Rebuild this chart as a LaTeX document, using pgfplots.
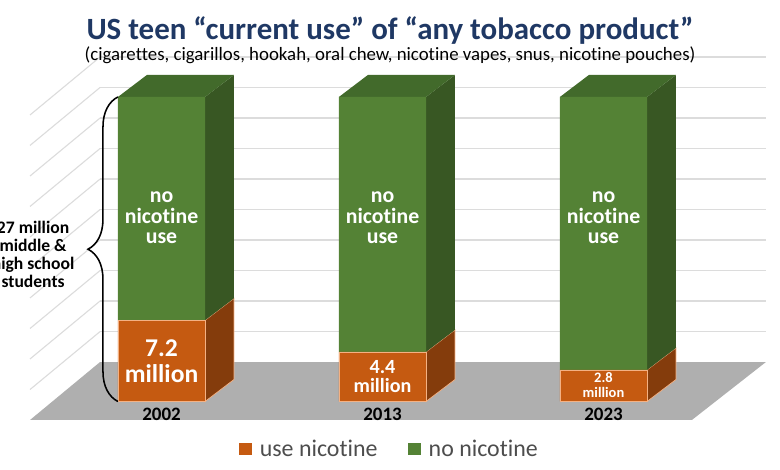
\documentclass[border=0pt]{standalone}
\usepackage{pgfplots}
\pgfplotsset{compat=1.18}
\usepackage{fontspec}
\setmainfont{Carlito}[Ligatures=NoCommon]
\usetikzlibrary{decorations.pathreplacing}
\definecolor{orF}{HTML}{C55A11}
\definecolor{orS}{HTML}{843C0C}
\definecolor{grF}{HTML}{548235}
\definecolor{grS}{HTML}{385723}
\definecolor{grT}{HTML}{426A2B}
\definecolor{tanC}{HTML}{F4B183}
\definecolor{floorC}{HTML}{AFAFAF}
\definecolor{gridC}{HTML}{DCDCDC}
\definecolor{titleC}{HTML}{1F3864}
\definecolor{legC}{HTML}{4D4D4D}
\pgfplotsset{base/.style={at={(0,0)}, anchor=south west, x=5.525cm, y=0.282cm,
  xmin=-0.7308, xmax=2.7986, ymin=-6.073, ymax=35.594, hide axis, clip=false}}
\begin{document}
\begin{tikzpicture}
\useasboundingbox (0,0) rectangle (19.5,11.75);
\clip (0,0) rectangle (19.5,11.75);
\begin{axis}[base]
% floor
\addplot[fill=floorC, draw=none] coordinates {(-0.595,-1.64) (2.400,-1.64) (2.735,3.50) (-0.278,3.50)} -- cycle;
% back wall gridlines
\addplot[gridC, line width=0.8pt, unbounded coords=jump, mark=none] coordinates {
(-0.278,6.20) (2.735,6.20) (0,nan)
(-0.278,8.91) (2.735,8.91) (0,nan)
(-0.278,11.61) (2.735,11.61) (0,nan)
(-0.278,14.32) (2.735,14.32) (0,nan)
(-0.278,17.02) (2.735,17.02) (0,nan)
(-0.278,19.72) (2.735,19.72) (0,nan)
(-0.278,22.43) (2.735,22.43) (0,nan)
(-0.278,25.13) (2.735,25.13) (0,nan)
(-0.278,27.84) (2.735,27.84) (0,nan)
(-0.278,30.54) (2.735,30.54)};
% left wall gridlines
\addplot[gridC, line width=0.8pt, unbounded coords=jump, mark=none] coordinates {
(-0.595,1.06) (-0.278,6.20) (0,nan)
(-0.595,3.77) (-0.278,8.91) (0,nan)
(-0.595,6.47) (-0.278,11.61) (0,nan)
(-0.595,9.18) (-0.278,14.32) (0,nan)
(-0.595,11.88) (-0.278,17.02) (0,nan)
(-0.595,14.58) (-0.278,19.72) (0,nan)
(-0.595,17.29) (-0.278,22.43) (0,nan)
(-0.595,19.99) (-0.278,25.13) (0,nan)
(-0.595,22.70) (-0.278,27.84) (0,nan)
(-0.595,25.40) (-0.278,30.54)};
% bar 2002 sides and top
\addplot[fill=orS, draw=tanC, line width=0.5pt] coordinates {(0.197,0) (0.328,1.95) (0.328,9.15) (0.197,7.2)} -- cycle;
\addplot[fill=grS, draw=none] coordinates {(0.197,7.2) (0.328,9.15) (0.328,28.95) (0.197,27)} -- cycle;
\addplot[fill=grT, draw=none] coordinates {(-0.197,27) (0.197,27) (0.328,28.95) (-0.066,28.95)} -- cycle;
% bar 2013
\addplot[fill=orS, draw=tanC, line width=0.5pt] coordinates {(1.197,0) (1.328,1.95) (1.328,6.35) (1.197,4.4)} -- cycle;
\addplot[fill=grS, draw=none] coordinates {(1.197,4.4) (1.328,6.35) (1.328,28.95) (1.197,27)} -- cycle;
\addplot[fill=grT, draw=none] coordinates {(0.803,27) (1.197,27) (1.328,28.95) (0.934,28.95)} -- cycle;
% bar 2023
\addplot[fill=orS, draw=tanC, line width=0.5pt] coordinates {(2.197,0) (2.328,1.95) (2.328,4.75) (2.197,2.8)} -- cycle;
\addplot[fill=grS, draw=none] coordinates {(2.197,2.8) (2.328,4.75) (2.328,28.95) (2.197,27)} -- cycle;
\addplot[fill=grT, draw=none] coordinates {(1.803,27) (2.197,27) (2.328,28.95) (1.934,28.95)} -- cycle;
\end{axis}
\begin{axis}[base, ybar stacked, bar width=0.394,
  legend style={at={(0.5,0.0447)}, anchor=center, legend columns=2, draw=none, fill=none,
    font=\fontsize{17}{20}\selectfont, text=legC,
    /tikz/every odd column/.append style={column sep=0.12cm},
    /tikz/every even column/.append style={column sep=0.7cm}},
  legend image code/.code={\path[#1, draw=none] (0cm,-0.16cm) rectangle (0.32cm,0.16cm);}]
\addplot[fill=orF, draw=tanC, line width=0.5pt] coordinates {(0,7.2) (1,4.4) (2,2.8)};
\addplot[fill=grF, draw=none] coordinates {(0,19.8) (1,22.6) (2,24.2)};
\legend{use nicotine, no nicotine}
\end{axis}
\begin{axis}[base]
% title
\node[anchor=base, font=\bfseries\fontsize{22}{26}\selectfont, text=titleC] at (axis cs:1.034,32.05) {US teen “current use” of “any tobacco product”};
\node[anchor=base, font=\fontsize{13.4}{15}\selectfont] at (axis cs:1.034,30.27) {(cigarettes, cigarillos, hookah, oral chew, nicotine vapes, snus, nicotine pouches)};
% bar labels
\node[text=white, font=\bfseries\fontsize{15.5}{14.5}\selectfont, align=center] at (axis cs:0,16.27) {no\\nicotine\\use};
\node[text=white, font=\bfseries\fontsize{15.5}{14.5}\selectfont, align=center] at (axis cs:1,16.27) {no\\nicotine\\use};
\node[text=white, font=\bfseries\fontsize{15.5}{14.5}\selectfont, align=center] at (axis cs:2,16.27) {no\\nicotine\\use};
\node[text=white, font=\bfseries\fontsize{18.2}{18.8}\selectfont, align=center] at (axis cs:0,3.59) {7.2\\million};
\node[text=white, font=\bfseries\fontsize{14.3}{13.5}\selectfont, align=center] at (axis cs:1,2.17) {4.4\\million};
\node[text=white, font=\bfseries\fontsize{10.3}{10.7}\selectfont, align=center] at (axis cs:2,1.42) {2.8\\million};
% years
\node[font=\bfseries\fontsize{13.5}{15}\selectfont] at (axis cs:0,-1.1) {2002};
\node[font=\bfseries\fontsize{13.5}{15}\selectfont] at (axis cs:1,-1.1) {2013};
\node[font=\bfseries\fontsize{13.5}{15}\selectfont] at (axis cs:2,-1.1) {2023};
% brace and side label
\draw[decorate, decoration={brace, amplitude=0.75cm}, line width=1.1pt] (axis cs:-0.197,0) -- (axis cs:-0.197,27);
\node[font=\bfseries\fontsize{12.5}{12.8}\selectfont, align=center] at (axis cs:-0.581,13.08) {27 million\\middle \&\\high school\\students};
\end{axis}
\end{tikzpicture}
\end{document}
